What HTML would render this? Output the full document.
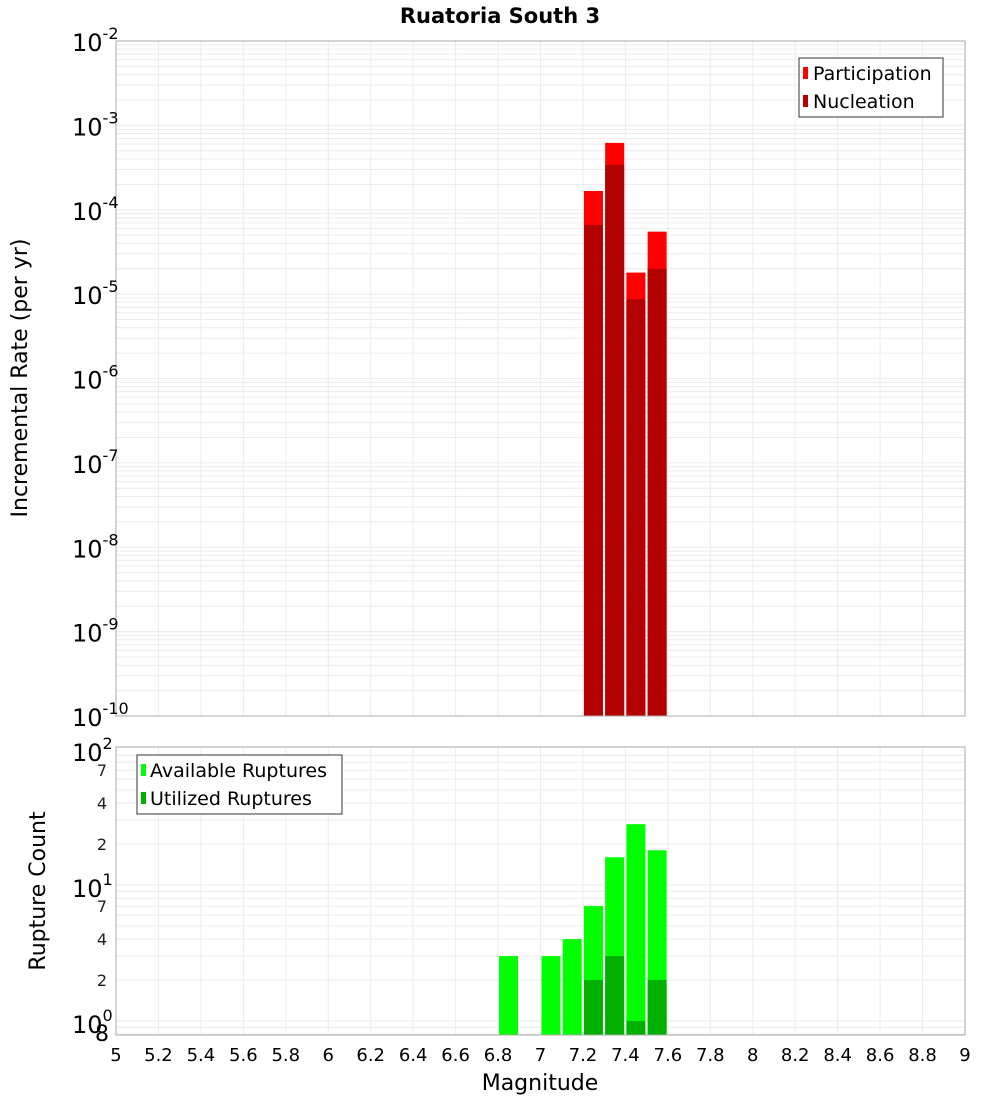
<!DOCTYPE html>
<html><head><meta charset="utf-8"><style>
body{margin:0;background:#fff}
svg text{font-family:"DejaVu Sans","Liberation Sans",sans-serif}
</style></head><body>
<svg id="c" width="1000" height="1100" xmlns="http://www.w3.org/2000/svg">
<text x="500" y="23" text-anchor="middle" font-size="21" font-weight="bold">Ruatoria South 3</text>
<g id="topg"></g>
<g id="botg"></g>
<text transform="translate(27,378) rotate(-90)" text-anchor="middle" font-size="22">Incremental Rate (per yr)</text>
<text transform="translate(45,891) rotate(-90)" text-anchor="middle" font-size="22">Rupture Count</text>
<text x="540" y="1090" text-anchor="middle" font-size="22">Magnitude</text>
<g>
<rect x="799" y="58" width="144" height="59" fill="#fff" stroke="#333"/>
<rect x="803" y="67" width="5" height="12" fill="#ff0000"/>
<text x="813" y="80" font-size="19">Participation</text>
<rect x="803" y="95" width="5" height="12" fill="#b30000"/>
<text x="813" y="108" font-size="19">Nucleation</text>
</g>
<g>
<rect x="137" y="755" width="205" height="59" fill="#fff" stroke="#333"/>
<rect x="141" y="764" width="5" height="12" fill="#00ff00"/>
<text x="150" y="777" font-size="19">Available Ruptures</text>
<rect x="141" y="792" width="5" height="12" fill="#00b000"/>
<text x="150" y="805" font-size="19">Utilized Ruptures</text>
</g>
</svg>
<script>
const mags=[6.85,7.05,7.15,7.25,7.35,7.45,7.55];
const rateMags=[7.25,7.35,7.45,7.55];
const participation=[1.67e-4,6.2e-4,1.8e-5,5.5e-5];
const nucleation=[6.6e-5,3.4e-4,8.7e-6,2.0e-5];
const available=[3,3,4,7,16,28,18];
const utilized=[0,0,0,2,3,1,2];
const xTicks=[5,5.2,5.4,5.6,5.8,6,6.2,6.4,6.6,6.8,7,7.2,7.4,7.6,7.8,8,8.2,8.4,8.6,8.8,9];
const topExps=[-2,-3,-4,-5,-6,-7,-8,-9,-10];
const botMinor=[2,4,7];

const NS="http://www.w3.org/2000/svg";
const L=116,R=965;
const x=m=>L+(m-5)*(R-L)/4;
const yT=v=>41+(-2-Math.log10(v))*84.375;
const yB=v=>1021-Math.log10(v)*136;
function mk(p,tag,a){const e=document.createElementNS(NS,tag);for(const k in a)e.setAttribute(k,a[k]);p.appendChild(e);return e;}
const gTop=document.getElementById('topg'),gBot=document.getElementById('botg');

mk(gTop,'rect',{x:L,y:41,width:R-L,height:675,fill:'#fff'});
for(let e=-10;e<-2;e++)for(let k=1;k<10;k++){const yy=yT(k*Math.pow(10,e));
 const g=mk(gTop,'line',{x1:L,x2:R,y1:yy,y2:yy,stroke:'#ececec','stroke-width':1});
 
 }
xTicks.forEach(t=>{const g=mk(gTop,'line',{x1:x(t),x2:x(t),y1:41,y2:716,stroke:'#ececec'});
 
 });
rateMags.forEach((m,i)=>{
 const b=mk(gTop,'rect',{x:x(m-0.05)+1,y:yT(participation[i]),width:19,height:716-yT(participation[i]),fill:'#ff0000'});
 
 
 const n=mk(gTop,'rect',{x:x(m-0.05)+1,y:yT(nucleation[i]),width:19,height:716-yT(nucleation[i]),fill:'#b30000'});
 
 
});
mk(gTop,'rect',{x:L,y:41,width:R-L,height:675,fill:'none',stroke:'#aaa'});
topExps.forEach(e=>{const yy=yT(Math.pow(10,e));
 const t=mk(gTop,'text',{x:72,y:yy+10,'font-size':24});
 
 
 t.textContent='10';const s=mk(t,'tspan',{dy:-12,'font-size':16});s.textContent=String(e);});

mk(gBot,'rect',{x:L,y:747,width:R-L,height:288,fill:'#fff'});
for(let e=-1;e<2;e++)for(let k=1;k<10;k++){const v=k*Math.pow(10,e),yy=yB(v);if(yy<747||yy>1035)continue;
 const g=mk(gBot,'line',{x1:L,x2:R,y1:yy,y2:yy,stroke:'#ececec'});
 
 }
xTicks.forEach(t=>{const g=mk(gBot,'line',{x1:x(t),x2:x(t),y1:747,y2:1035,stroke:'#ececec'});
 
 });
mags.forEach((m,i)=>{
 const b=mk(gBot,'rect',{x:x(m-0.05)+1,y:yB(available[i]),width:19,height:1035-yB(available[i]),fill:'#00ff00'});
 
 
 if(utilized[i]>0){const n=mk(gBot,'rect',{x:x(m-0.05)+1,y:yB(utilized[i]),width:19,height:1035-yB(utilized[i]),fill:'#00b000'});
 
 }
});
mk(gBot,'rect',{x:L,y:747,width:R-L,height:288,fill:'none',stroke:'#aaa'});
[2,1,0].forEach(e=>{const yy=yB(Math.pow(10,e));
 const t=mk(gBot,'text',{x:72,y:yy+12,'font-size':24});
 
 
 t.textContent='10';const s=mk(t,'tspan',{dy:-12,'font-size':16});s.textContent=String(e);
 if(e>0)botMinor.forEach(k=>{const v=k*Math.pow(10,e-1);const m=mk(gBot,'text',{x:107,y:yB(v)+6,'font-size':16,'text-anchor':'end',fill:'#222'});
  
  
  m.textContent=String(k);});});
const e8=mk(gBot,'text',{x:95,y:1041,'font-size':22});e8.textContent='8';


xTicks.forEach(t=>{const tx=mk(gBot,'text',{x:x(t),y:1061,'font-size':18,'text-anchor':'middle'});
 
 
 tx.textContent=String(t);});
</script>
</body></html>
